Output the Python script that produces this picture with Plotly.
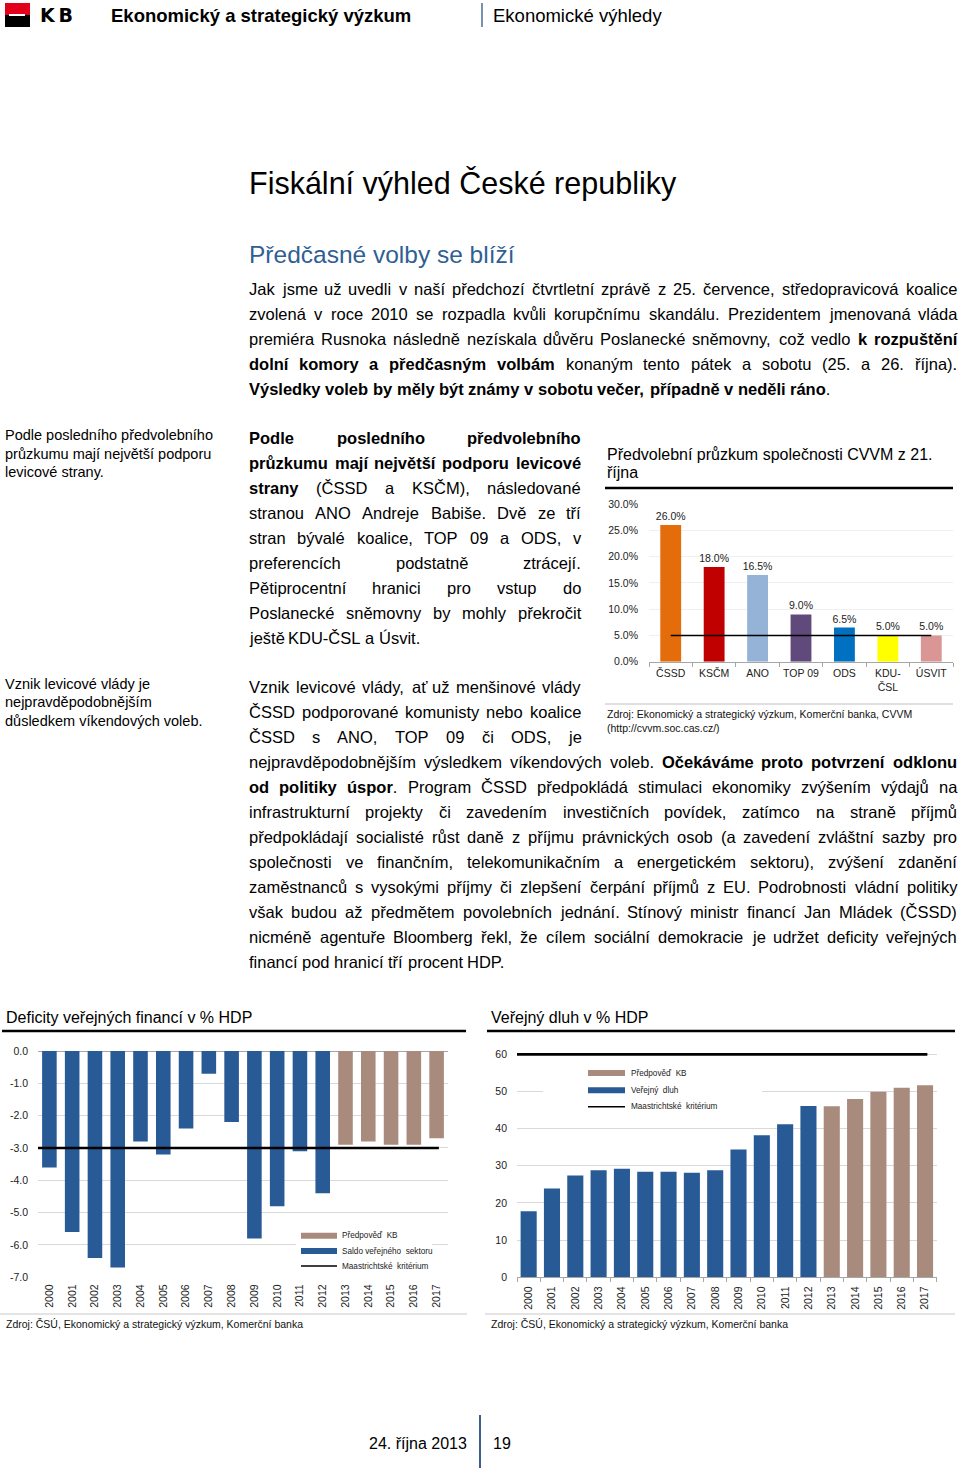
import re
import unicodedata
import plotly.graph_objects as go

W, H = 960, 1470
FONT = "Liberation Sans, Arial, Helvetica, sans-serif"

# ---------------- data ----------------
parties = ["ČSSD", "KSČM", "ANO", "TOP 09", "ODS", "KDU-ČSL", "ÚSVIT"]
party_labels = ["ČSSD", "KSČM", "ANO", "TOP 09", "ODS", "KDU-<br>ČSL", "ÚSVIT"]
poll_values = [26.0, 18.0, 16.5, 9.0, 6.5, 5.0, 5.0]
party_colors = ["#E46C0A", "#C00000", "#95B3D7", "#604A7B", "#0070C0", "#FFFF00", "#D99694"]
poll_threshold = 5.0
poll_ticks = [0, 5, 10, 15, 20, 25, 30]

years = ["2000", "2001", "2002", "2003", "2004", "2005", "2006", "2007", "2008",
         "2009", "2010", "2011", "2012", "2013", "2014", "2015", "2016", "2017"]
n_actual = 13  # 2000-2012 actual, 2013-2017 KB forecast
deficit = [-3.6, -5.6, -6.4, -6.7, -2.8, -3.2, -2.4, -0.7, -2.2,
           -5.8, -4.8, -3.1, -4.4, -2.9, -2.8, -2.9, -2.9, -2.7]
debt = [17.8, 23.9, 27.4, 28.8, 29.2, 28.4, 28.4, 28.1, 28.8,
        34.4, 38.2, 41.2, 46.1, 46.0, 48.0, 49.9, 51.0, 51.7]
maastricht_deficit = -3.0
maastricht_debt = 60.0
deficit_ticks = [0, -1, -2, -3, -4, -5, -6, -7]
debt_ticks = [0, 10, 20, 30, 40, 50, 60]

BLUE = "#285A96"
BROWN = "#A98B7E"
GRID = "#D9D9D9"
AXIS = "#A6A6A6"


def X(p):
    return p / W


def Y(p):
    return 1 - p / H


annotations = []
shapes = []


def txt(x, y, s, size, color="#000000", xanchor="left", family=FONT):
    annotations.append(dict(x=X(x), y=Y(y), xref="paper", yref="paper", text=s,
                            showarrow=False, xanchor=xanchor, yanchor="middle",
                            font=dict(size=size, color=color, family=family)))


def rect(x0, y0, x1, y1, color):
    shapes.append(dict(type="rect", xref="paper", yref="paper", x0=X(x0), x1=X(x1),
                       y0=Y(y1), y1=Y(y0), fillcolor=color, line=dict(width=0),
                       layer="above"))


def hline(x0, x1, y, color="#000000", width=1.0):
    shapes.append(dict(type="line", xref="paper", yref="paper", x0=X(x0), x1=X(x1),
                       y0=Y(y), y1=Y(y), line=dict(color=color, width=width),
                       layer="above"))


def vline(x, y0, y1, color="#000000", width=1.0):
    shapes.append(dict(type="line", xref="paper", yref="paper", x0=X(x), x1=X(x),
                       y0=Y(y0), y1=Y(y1), line=dict(color=color, width=width),
                       layer="above"))


# --------- approximate Arial metrics for justified text ---------
REG = {' ': 278, '!': 278, '%': 889, "'": 191, '(': 333, ')': 333, ',': 278, '-': 333,
       '.': 278, '/': 278, ':': 278, ';': 278, '?': 556}
BOLD = {' ': 278, '!': 333, '%': 889, '(': 333, ')': 333, ',': 278, '-': 333,
        '.': 278, '/': 278, ':': 333, ';': 333}
for d in "0123456789":
    REG[d] = 556
    BOLD[d] = 556
for c, w in zip("ABCDEFGHIJKLMNOPQRSTUVWXYZ",
                [667, 667, 722, 722, 667, 611, 778, 722, 278, 500, 667, 556, 833, 722,
                 778, 667, 778, 722, 667, 611, 722, 667, 944, 667, 667, 611]):
    REG[c] = w
for c, w in zip("abcdefghijklmnopqrstuvwxyz",
                [556, 556, 500, 556, 556, 278, 556, 556, 222, 222, 500, 222, 833, 556,
                 556, 556, 556, 333, 500, 278, 556, 500, 722, 500, 500, 500]):
    REG[c] = w
for c, w in zip("ABCDEFGHIJKLMNOPQRSTUVWXYZ",
                [722, 722, 722, 722, 667, 611, 778, 722, 278, 556, 722, 611, 833, 722,
                 778, 667, 778, 722, 667, 611, 722, 667, 944, 667, 667, 611]):
    BOLD[c] = w
for c, w in zip("abcdefghijklmnopqrstuvwxyz",
                [556, 611, 556, 611, 556, 333, 611, 611, 278, 278, 556, 278, 889, 611,
                 611, 611, 611, 389, 556, 333, 611, 556, 778, 556, 556, 500]):
    BOLD[c] = w


def char_w(ch, bold):
    if ch in "íÍ":
        return 278
    base = unicodedata.normalize("NFD", ch)[0]
    return (BOLD if bold else REG).get(base, 556)


def parse_words(line):
    bold = False
    chars = []
    for t in re.split(r"(<b>|</b>)", line):
        if t == "<b>":
            bold = True
        elif t == "</b>":
            bold = False
        else:
            chars.extend((c, bold) for c in t)
    words, cur = [], []
    for c, b in chars:
        if c == " ":
            if cur:
                words.append(cur)
                cur = []
        else:
            cur.append((c, b))
    if cur:
        words.append(cur)
    return words


def word_markup(word):
    out, i = "", 0
    while i < len(word):
        b = word[i][1]
        j = i
        seg = ""
        while j < len(word) and word[j][1] == b:
            seg += word[j][0]
            j += 1
        out += f"<b>{seg}</b>" if b else seg
        i = j
    return out


def text_line(x0, x1, y, line, size, justify):
    words = parse_words(line)
    widths = [sum(char_w(c, b) for c, b in w) * size / 1000 for w in words]
    space = 278 * size / 1000
    if justify and len(words) > 1:
        gap = (x1 - x0 - sum(widths)) / (len(words) - 1)
        gap = max(gap, 0.18 * size)
    else:
        gap = space
    x = x0
    for w, wd in zip(words, widths):
        txt(x - 1, y, word_markup(w), size)
        x += wd + gap


# ---------------- header ----------------
rect(5, 3, 30, 15, "#E2001A")
rect(5, 15, 30, 27, "#000000")
rect(9, 14, 25, 16, "#FFFFFF")
txt(38, 15, "<b>K\u2009B</b>", 19, family="DejaVu Sans, Arial, sans-serif")
txt(109, 15, "<b>Ekonomický a strategický výzkum</b>", 18.5)
vline(482, 3, 27, "#4A6D9C", 1.5)
txt(491, 15, "Ekonomické výhledy", 18.5)

txt(247, 184, "Fiskální výhled České republiky", 30.5)
txt(247, 254, "Předčasné volby se blíží", 24.5, color="#2F5F93")

BODY = 16.5
L, R_FULL, R_NARROW = 248, 956, 580

para1 = [
    "Jak jsme už uvedli v naší předchozí čtvrtletní zprávě z 25. července, středopravicová koalice",
    "zvolená v roce 2010 se rozpadla kvůli korupčnímu skandálu. Prezidentem jmenovaná vláda",
    "premiéra Rusnoka následně nezískala důvěru Poslanecké sněmovny, což vedlo <b>k rozpuštění</b>",
    "<b>dolní komory a předčasným volbám</b> konaným tento pátek a sobotu (25. a 26. října).",
    "<b>Výsledky voleb by měly být známy v sobotu večer, případně v neděli ráno</b>.",
]
for i, ln in enumerate(para1):
    text_line(L, R_FULL, 289 + 25 * i, ln, BODY, i < len(para1) - 1)

para2 = [
    "<b>Podle posledního předvolebního</b>",
    "<b>průzkumu mají největší podporu levicové</b>",
    "<b>strany</b> (ČSSD a KSČM), následované",
    "stranou ANO Andreje Babiše. Dvě ze tří",
    "stran bývalé koalice, TOP 09 a ODS, v",
    "preferencích podstatně ztrácejí.",
    "Pětiprocentní hranici pro vstup do",
    "Poslanecké sněmovny by mohly překročit",
    "ještě KDU-ČSL a Úsvit.",
]
for i, ln in enumerate(para2):
    text_line(L, R_NARROW, 438 + 25 * i, ln, BODY, i < len(para2) - 1)

para3 = [
    "Vznik levicové vlády, ať už menšinové vlády",
    "ČSSD podporované komunisty nebo koalice",
    "ČSSD s ANO, TOP 09 či ODS, je",
    "nejpravděpodobnějším výsledkem víkendových voleb. <b>Očekáváme proto potvrzení odklonu</b>",
    "<b>od politiky úspor</b>. Program ČSSD předpokládá stimulaci ekonomiky zvýšením výdajů na",
    "infrastrukturní projekty či zavedením investičních povídek, zatímco na straně příjmů",
    "předpokládají socialisté růst daně z příjmu právnických osob (a zavedení zvláštní sazby pro",
    "společnosti ve finančním, telekomunikačním a energetickém sektoru), zvýšení zdanění",
    "zaměstnanců s vysokými příjmy či zlepšení čerpání příjmů z EU. Podrobnosti vládní politiky",
    "však budou až předmětem povolebních jednání. Stínový ministr financí Jan Mládek (ČSSD)",
    "nicméně agentuře Bloomberg řekl, že cílem sociální demokracie je udržet deficity veřejných",
    "financí pod hranicí tří procent HDP.",
]
for i, ln in enumerate(para3):
    right = R_NARROW if i < 3 else R_FULL
    text_line(L, right, 687 + 25 * i, ln, BODY, i < len(para3) - 1)

SIDE = 14.5
for i, ln in enumerate(["Podle posledního předvolebního", "průzkumu mají největší podporu",
                        "levicové strany."]):
    txt(3, 435 + 18.5 * i, ln, SIDE)
for i, ln in enumerate(["Vznik levicové vlády je", "nejpravděpodobnějším",
                        "důsledkem víkendových voleb."]):
    txt(3, 684 + 18.5 * i, ln, SIDE)

# ---------------- poll chart texts ----------------
txt(605, 454, "Předvolební průzkum společnosti CVVM z 21.", 16)
txt(605, 473, "října", 16)
hline(605, 953, 488, "#000000", 2.5)
hline(605, 953, 704, "#BFBFBF", 1)
txt(605, 714, "Zdroj: Ekonomický a strategický výzkum, Komerční banka, CVVM", 10.5, "#111111")
txt(605, 728, "(http://cvvm.soc.cas.cz/)", 10.5, "#111111")

# ---------------- lower charts titles/sources ----------------
txt(4, 1017, "Deficity veřejných financí v % HDP", 16)
txt(489, 1017, "Veřejný dluh v % HDP", 16)
hline(2, 466, 1031, "#000000", 2.5)
hline(487, 955, 1031, "#000000", 2.5)
hline(0, 467, 1314, "#C8C8C8", 1)
hline(485, 955, 1314, "#C8C8C8", 1)
txt(4, 1324, "Zdroj: ČSÚ, Ekonomický a strategický výzkum, Komerční banka", 10.5, "#111111")
txt(489, 1324, "Zdroj: ČSÚ, Ekonomický a strategický výzkum, Komerční banka", 10.5, "#111111")

# legends (drawn manually)
LEG = 8.2
rect(296, 1227, 432, 1273, "#FFFFFF")
for (label, kind, color), yy in zip(
        [("Předpověď\u00a0 KB", "bar", BROWN), ("Saldo veřejného\u00a0 sektoru", "bar", BLUE),
         ("Maastrichtské\u00a0 kritérium", "line", "#000000")],
        [1235.7, 1251, 1266]):
    if kind == "bar":
        rect(301, yy - 3, 337, yy + 3, color)
    else:
        hline(301, 337, yy, color, 1.5)
    txt(340, yy, label, LEG, "#222222")

rect(543, 1058, 762, 1116, "#FFFFFF")
for (label, kind, color), yy in zip(
        [("Předpověď\u00a0 KB", "bar", BROWN), ("Veřejný\u00a0 dluh", "bar", BLUE),
         ("Maastrichtské\u00a0 kritérium", "line", "#000000")],
        [1073, 1090.3, 1106.7]):
    if kind == "bar":
        rect(588, yy - 3, 625, yy + 3, color)
    else:
        hline(588, 625, yy, color, 1.5)
    txt(629, yy, label, LEG, "#222222")

# footer
txt(367, 1443, "24. října 2013", 16)
vline(480, 1415, 1468, "#3D5F8F", 2)
txt(491, 1443, "19", 16)

# ---------------- traces ----------------
fig = go.Figure()
TICKF = dict(size=10.5, color="#222222", family=FONT)

fig.add_trace(go.Bar(x=parties, y=poll_values, marker=dict(color=party_colors, line=dict(width=0)),
                     width=0.48, texttemplate="%{y:.1f}%", textposition="outside",
                     constraintext="none",
                     textfont=dict(size=10.5, color="#222222", family=FONT), cliponaxis=False,
                     xaxis="x", yaxis="y", showlegend=False))
fig.add_trace(go.Scatter(x=[parties[0], parties[-1]], y=[poll_threshold, poll_threshold],
                         mode="lines", line=dict(color="#000000", width=1.5),
                         xaxis="x", yaxis="y", showlegend=False))

xi = list(range(len(years)))
fig.add_trace(go.Bar(x=xi[:n_actual], y=deficit[:n_actual], marker=dict(color=BLUE, line=dict(width=0)),
                     width=0.64, xaxis="x2", yaxis="y2", showlegend=False))
fig.add_trace(go.Bar(x=xi[n_actual:], y=deficit[n_actual:], marker=dict(color=BROWN, line=dict(width=0)),
                     width=0.64, xaxis="x2", yaxis="y2", showlegend=False))
fig.add_trace(go.Scatter(x=[xi[0] - 0.5, xi[-1] + 0.1], y=[maastricht_deficit] * 2, mode="lines",
                         line=dict(color="#000000", width=2.5), xaxis="x2", yaxis="y2",
                         showlegend=False))

fig.add_trace(go.Bar(x=xi[:n_actual], y=debt[:n_actual], marker=dict(color=BLUE, line=dict(width=0)),
                     width=0.69, xaxis="x3", yaxis="y3", showlegend=False))
fig.add_trace(go.Bar(x=xi[n_actual:], y=debt[n_actual:], marker=dict(color=BROWN, line=dict(width=0)),
                     width=0.69, xaxis="x3", yaxis="y3", showlegend=False))
fig.add_trace(go.Scatter(x=[xi[0] - 0.5, xi[-1] + 0.1], y=[maastricht_debt] * 2, mode="lines",
                         line=dict(color="#000000", width=2.8), xaxis="x3", yaxis="y3",
                         showlegend=False, cliponaxis=False))

boundaries = [i - 0.5 for i in range(len(years) + 1)]
debt_unit = (1277.3 - 1054.3) / 60.0  # px per percentage point

fig.update_layout(
    width=W, height=H, autosize=False,
    margin=dict(l=0, r=0, t=0, b=0, pad=0, autoexpand=False),
    paper_bgcolor="#FFFFFF", plot_bgcolor="#FFFFFF",
    barmode="overlay", showlegend=False,
    font=dict(family=FONT, color="#222222"),
    annotations=annotations, shapes=shapes,
    xaxis=dict(domain=[X(649), X(953)], anchor="y", type="category", automargin=False,
               tickvals=parties, ticktext=party_labels, tickson="boundaries", tickangle=0,
               ticks="outside", ticklen=4, tickcolor=AXIS, showline=True, linecolor=AXIS,
               showgrid=False, tickfont=TICKF, ticklabelstandoff=2),
    yaxis=dict(domain=[Y(661.7), Y(504)], anchor="x", range=[0, 30], tickvals=poll_ticks,
               automargin=False,
               ticktext=[f"{v:.1f}%" for v in poll_ticks], showgrid=True, gridcolor="#EFEFEF",
               zeroline=False, showline=False, tickfont=TICKF, ticklabelstandoff=10),
    xaxis2=dict(domain=[X(38), X(448)], anchor="y2", range=[-0.5, len(years) - 0.5],
                automargin=False,
                tickvals=xi, ticktext=years, tickangle=-90, ticks="", showline=False,
                showgrid=False, zeroline=False, tickfont=TICKF, ticklabelstandoff=4),
    yaxis2=dict(domain=[Y(1277.3), Y(1051)], anchor="x2", range=[-7, 0], automargin=False,
                tickvals=deficit_ticks, ticktext=[f"{v:.1f}" for v in deficit_ticks],
                showgrid=True, gridcolor=GRID, zeroline=True, zerolinecolor=AXIS,
                zerolinewidth=1, showline=False, tickfont=TICKF, ticklabelstandoff=9),
    xaxis3=dict(domain=[X(517), X(936.7)], anchor="y3", range=[-0.5, len(years) - 0.5],
                automargin=False,
                tickvals=xi, ticktext=years, tickangle=-90, ticks="", showline=True,
                linecolor=AXIS, showgrid=False, zeroline=False, tickfont=TICKF,
                ticklabelstandoff=4,
                minor=dict(tickvals=boundaries, ticks="outside", ticklen=4,
                           tickcolor=AXIS, showgrid=False)),
    yaxis3=dict(domain=[Y(1277.3), Y(1054.3 - debt_unit)], anchor="x3", range=[0, 61],
                automargin=False,
                tickvals=debt_ticks, showgrid=True, gridcolor=GRID, zeroline=False,
                showline=False, tickfont=TICKF, ticklabelstandoff=9),
)

fig.write_html(
    "out.html",
    config={"displayModeBar": False},
    post_script="document.body.style.margin='0';document.body.style.padding='0';"
                "document.body.style.overflow='hidden';",
)
